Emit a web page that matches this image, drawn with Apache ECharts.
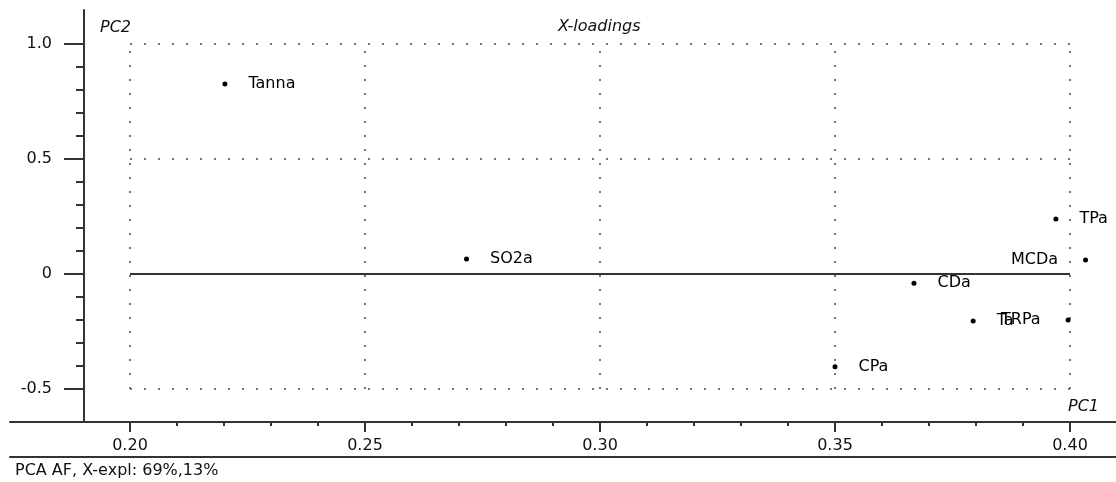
<!DOCTYPE html>
<html>
<head>
<meta charset="utf-8">
<script src="https://cdn.jsdelivr.net/npm/echarts@6/dist/echarts.min.js"></script>
<style>
  html, body { margin: 0; padding: 0; background: #fff; }
  #chart { width: 1116px; height: 482px; }
</style>
</head>
<body>
<div id="chart"></div>
<script>
// ---- data ----
const names = ["Tanna", "SO2a", "CPa", "CDa", "TPa", "MCDa", "Ta", "TRPa"];
const pc1   = [0.2202, 0.2716, 0.3500, 0.3668, 0.3970, 0.4033, 0.3794, 0.3996];
const pc2   = [0.826, 0.065, -0.403, -0.040, 0.239, 0.061, -0.204, -0.200];

const xMajorTicks = [0.20, 0.25, 0.30, 0.35, 0.40];
const xMinorTicks = [0.21,0.22,0.23,0.24,0.26,0.27,0.28,0.29,0.31,0.32,0.33,0.34,0.36,0.37,0.38,0.39];
const yMajorTicks = [-0.5, 0, 0.5, 1.0];
const yMinorTicks = [-0.4,-0.3,-0.2,-0.1,0.1,0.2,0.3,0.4,0.6,0.7,0.8,0.9];
const gridXLines = [0.20, 0.25, 0.30, 0.35, 0.40];
const gridYLines = [-0.5, 0.5, 1.0];

const X_MIN = 0.174468, X_MAX = 0.409787;
const Y_MIN = -0.6435, Y_MAX = 1.1478;
const FONT = "DejaVu Sans";
const AX = '#333';

const chart = echarts.init(document.getElementById('chart'), null, { renderer: 'canvas' });

const points = names.map((n, i) => ({
  name: n,
  value: [pc1[i], pc2[i]],
  label: (pc1[i] >= 0.3995) ? { position: 'left', distance: 25 } : { position: 'right', distance: 21 }
}));

const dotted = { color: '#777', width: 2, type: [2, 12] };
const markData = [];
gridXLines.forEach(x => markData.push([{ coord: [x, gridYLines[0]], lineStyle: dotted }, { coord: [x, gridYLines[gridYLines.length - 1]] }]));
gridYLines.forEach(y => markData.push([{ coord: [gridXLines[0], y], lineStyle: dotted }, { coord: [gridXLines[gridXLines.length - 1], y] }]));
markData.push([{ coord: [gridXLines[0], 0], lineStyle: { color: AX, width: 2, type: 'solid' } }, { coord: [gridXLines[gridXLines.length - 1], 0] }]);

const txt = { fontFamily: FONT, fontSize: 16, color: '#111' };
const italic = Object.assign({}, txt, { fontStyle: 'italic', fontWeight: 'normal' });

function xAx(extra) {
  return Object.assign({
    type: 'value', min: X_MIN, max: X_MAX, position: 'bottom', gridIndex: 0,
    axisLine: { show: false, onZero: false },
    axisTick: { show: false }, axisLabel: { show: false }, splitLine: { show: false }
  }, extra);
}
function yAx(extra) {
  return Object.assign({
    type: 'value', min: Y_MIN, max: Y_MAX, position: 'left', offset: -74, gridIndex: 0,
    axisLine: { show: false, onZero: false },
    axisTick: { show: false }, axisLabel: { show: false }, splitLine: { show: false }
  }, extra);
}

chart.setOption({
  animation: false,
  backgroundColor: '#fff',
  title: [
    { text: 'PC2', left: 100, top: 20, padding: 0, textStyle: italic },
    { text: 'X-loadings', left: 558, top: 19, padding: 0, textStyle: italic },
    { text: 'PC1', left: 1068, top: 399, padding: 0, textStyle: italic },
    { text: 'PCA AF, X-expl: 69%,13%', left: 15, top: 463, padding: 0, textStyle: Object.assign({}, txt, { fontWeight: 'normal' }) }
  ],
  grid: { left: 10, right: 0, top: 10, bottom: 60, containLabel: false },
  xAxis: [
    xAx({
      axisLine: { show: true, onZero: false, lineStyle: { color: AX, width: 2 } },
      axisTick: { show: true, customValues: xMajorTicks, length: 10, lineStyle: { color: AX, width: 2 } },
      axisLabel: { show: true, customValues: xMajorTicks, margin: 16, formatter: v => v.toFixed(2), fontFamily: FONT, fontSize: 16, color: '#111' }
    }),
    xAx({
      axisTick: { show: true, customValues: xMinorTicks, length: 4, lineStyle: { color: AX, width: 2 } }
    }),
    xAx({
      offset: 35,
      axisLine: { show: true, onZero: false, lineStyle: { color: AX, width: 2 } }
    })
  ],
  yAxis: [
    yAx({
      axisLine: { show: true, onZero: false, lineStyle: { color: AX, width: 2 } },
      axisTick: { show: true, customValues: yMajorTicks, length: 20, lineStyle: { color: AX, width: 2 } },
      axisLabel: { show: true, customValues: yMajorTicks, margin: 32, formatter: v => (v === 0 ? '0' : v.toFixed(1)), fontFamily: FONT, fontSize: 16, color: '#111' }
    }),
    yAx({
      axisTick: { show: true, customValues: yMinorTicks, length: 8, lineStyle: { color: AX, width: 2 } }
    })
  ],
  series: [{
    type: 'scatter',
    xAxisIndex: 0, yAxisIndex: 0,
    clip: false,
    symbol: 'circle',
    symbolSize: 5,
    itemStyle: { color: '#000', opacity: 1 },
    label: { show: true, formatter: '{b}', fontFamily: FONT, fontSize: 16, color: '#000', opacity: 1, textBorderWidth: 0 },
    data: points,
    markLine: {
      silent: true, symbol: 'none', animation: false,
      label: { show: false },
      emphasis: { disabled: true },
      data: markData
    },
    z: 5
  }]
});
</script>
</body>
</html>
